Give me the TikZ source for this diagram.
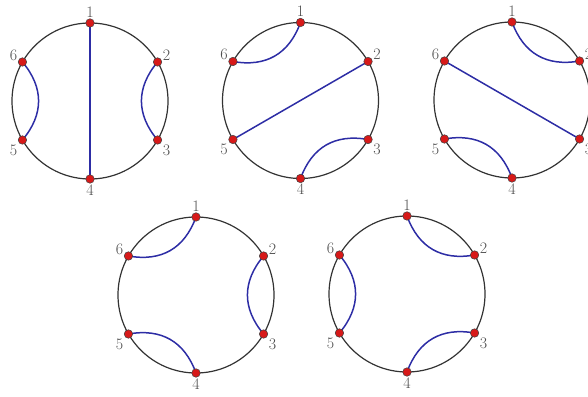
\documentclass[tikz,border=0pt]{standalone}
\usetikzlibrary{calc}
\definecolor{chordblue}{RGB}{45,45,165}
\definecolor{dotred}{RGB}{215,25,25}
\begin{document}
\begin{tikzpicture}[x=1pt,y=1pt]
\tikzset{
 rim/.style={draw=black!80, line width=1.2pt},
 vtx/.style={circle, fill=dotred, draw=black!75, line width=0.5pt, inner sep=0pt, minimum size=8.5pt},
 lab/.style={font=\fontsize{16}{16}\selectfont, text=black!70, inner sep=0pt},
 chord/.style={draw=chordblue, line width=1.5pt},
 arcc/.style={chord, looseness=1.1}
}
\useasboundingbox (0,0) rectangle (588,396);
% circles and vertex coordinates
\foreach \p/\cx/\cy in {a/90/295, b/300.5/295.5, c/512/296, d/196/101, e/407/102}{
  \draw[rim] (\cx,\cy) circle (78);
  \foreach \i/\ang in {1/90,2/30,3/-30,4/-90,5/210,6/150}{
    \coordinate (\p\i) at ($(\cx,\cy)+(\ang:78)$);
  }
}
% diagram a
\draw[chord] (a1) -- (a4);
\draw[arcc] (a6) to[out=-50,in=50] (a5);
\draw[arcc] (a3) to[out=130,in=230] (a2);
% diagram b
\draw[chord] (b2) -- (b5);
\draw[arcc] (b1) to[out=250,in=350] (b6);
\draw[arcc] (b4) to[out=70,in=170] (b3);
% diagram c
\draw[chord] (c6) -- (c3);
\draw[arcc] (c2) to[out=190,in=290] (c1);
\draw[arcc] (c5) to[out=10,in=110] (c4);
% diagram d
\draw[arcc] (d1) to[out=250,in=350] (d6);
\draw[arcc] (d3) to[out=130,in=230] (d2);
\draw[arcc] (d5) to[out=10,in=110] (d4);
% diagram e
\draw[arcc] (e2) to[out=190,in=290] (e1);
\draw[arcc] (e4) to[out=70,in=170] (e3);
\draw[arcc] (e6) to[out=-50,in=50] (e5);
% vertices and labels
\foreach \p in {a,b,c,d,e}{
  \foreach \i/\dx/\dy in {1/0/11,2/9/7,3/9/-10,4/0/-11,5/-9/-10,6/-9/7}{
    \node[lab] (\p l\i) at ($(\p\i)+(\dx,\dy)$) {\i};
    \node[vtx] (\p v\i) at (\p\i) {};
  }
}
\end{tikzpicture}
\end{document}
